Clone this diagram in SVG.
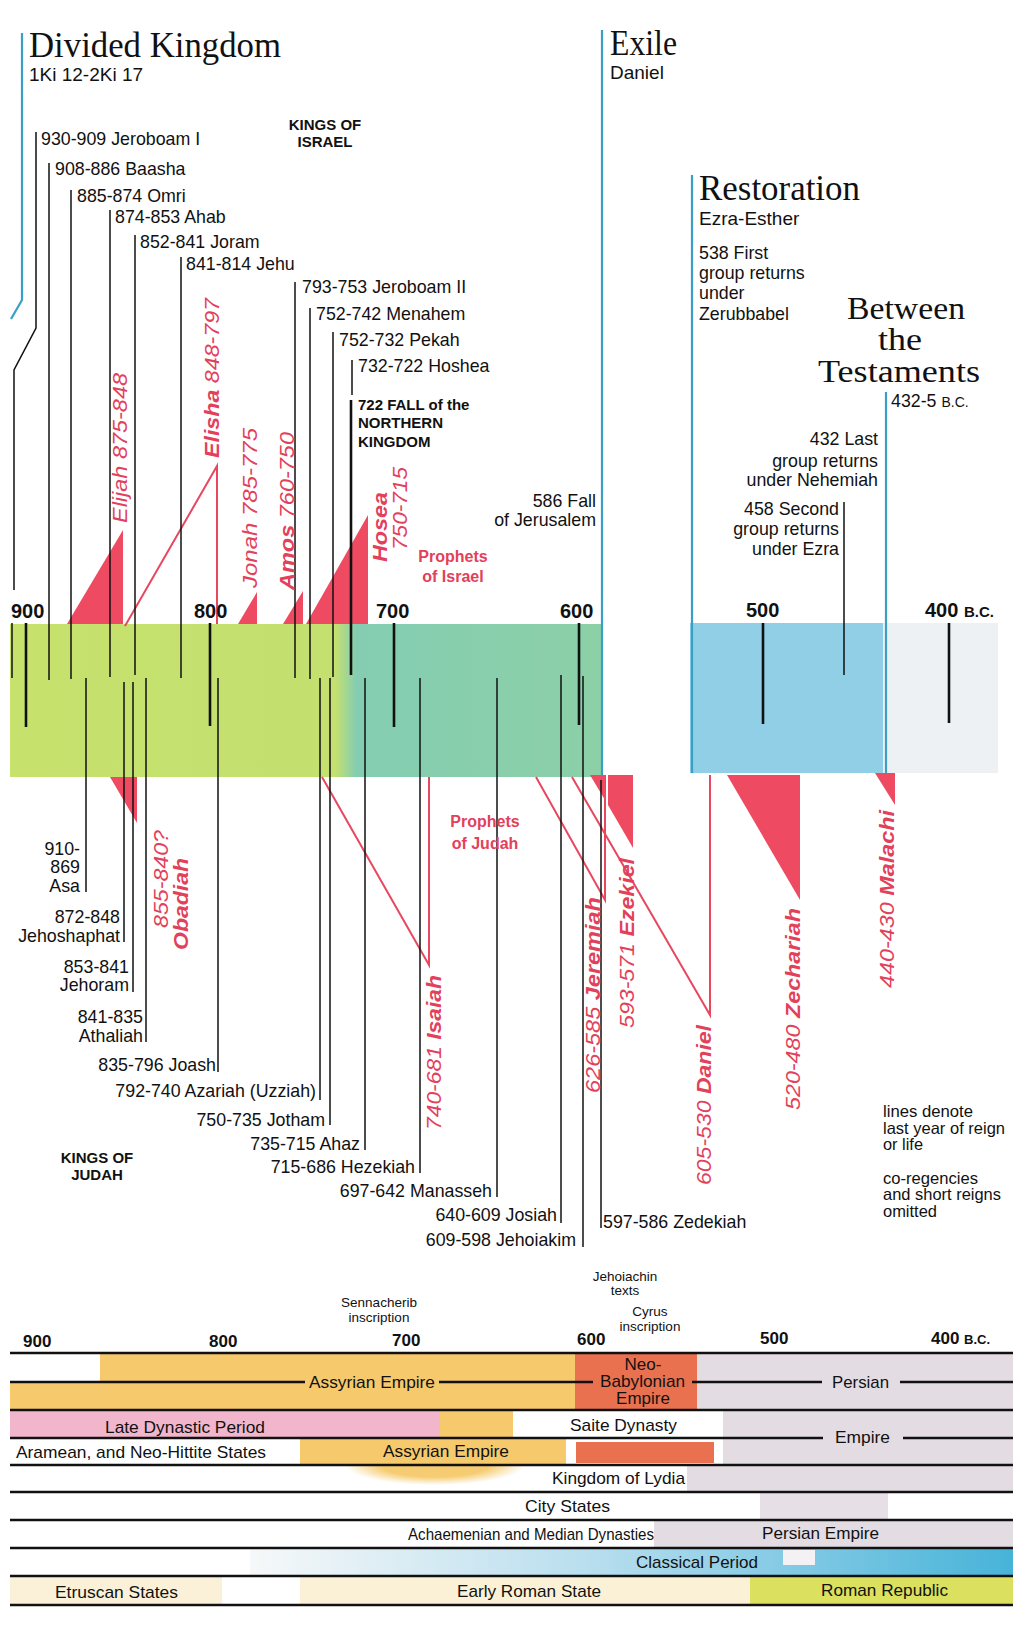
<svg xmlns="http://www.w3.org/2000/svg" width="1024" height="1635" viewBox="0 0 1024 1635">
<defs>
<style>
text{font-family:"Liberation Sans",Arial,sans-serif;fill:#111}
.ttl{font-family:"Liberation Serif","Times New Roman",serif;font-size:36px}
.ttl2{font-family:"Liberation Serif","Times New Roman",serif;font-size:32px}
.sub{font-size:19px}
.k{font-size:17.8px}
.kb{font-size:15px;font-weight:bold}
.yr{font-size:20px;font-weight:bold}
.yrs{font-size:15px;font-weight:bold}
.pr{font-size:21px;font-style:italic;fill:#E3405A}
.pb{font-weight:bold}
.plab{font-size:16px;font-weight:bold;fill:#E3405A}
.lg{font-size:16.5px}
.lc{font-size:17px}
.ly{font-size:17px;font-weight:bold}
.cap{font-size:13.5px}
.bl{stroke:#3A9FC6;stroke-width:2.2;fill:none}
.kl{stroke:#111;stroke-width:1.5;fill:none}
.tk{stroke:#111;stroke-width:2.6;fill:none}
.rf{fill:#EE4B63}
.rl{stroke:#E8475F;stroke-width:2;fill:none}
.hl{stroke:#111;stroke-width:2.6}
</style>
<linearGradient id="bandG" gradientUnits="userSpaceOnUse" x1="10" y1="0" x2="602" y2="0">
<stop offset="0" stop-color="#C6E16C"/>
<stop offset="0.55" stop-color="#C3E070"/>
<stop offset="0.585" stop-color="#84CDB2"/>
<stop offset="1" stop-color="#8CD0A7"/>
</linearGradient>
<linearGradient id="classG" gradientUnits="userSpaceOnUse" x1="250" y1="0" x2="1013" y2="0">
<stop offset="0" stop-color="#F6F8F9"/>
<stop offset="0.45" stop-color="#B8DEEE"/>
<stop offset="1" stop-color="#47B3D9"/>
</linearGradient>
<radialGradient id="glow" cx="0.5" cy="0.5" r="0.5">
<stop offset="0.6" stop-color="#F6CC72"/>
<stop offset="1" stop-color="#F6CC72" stop-opacity="0"/>
</radialGradient>
</defs>
<rect width="1024" height="1635" fill="#ffffff"/>

<!-- main band -->
<g id="band">
<rect x="10" y="624" width="592" height="153" fill="url(#bandG)"/>
<rect x="690" y="623" width="193" height="150" fill="#91CFE7"/>
<rect x="883" y="623" width="115" height="150" fill="#EDF1F4"/>
</g>

<!-- period headers -->
<g id="divided-kingdom">
<polyline class="bl" points="22,33 22,300 11,319"/>
<text class="ttl" x="29" y="57" textLength="252" lengthAdjust="spacingAndGlyphs">Divided Kingdom</text>
<text class="sub" x="29" y="81">1Ki 12-2Ki 17</text>
</g>
<g id="exile">
<line class="bl" x1="602" y1="30" x2="602" y2="777"/>
<text class="ttl" x="610" y="55" textLength="67" lengthAdjust="spacingAndGlyphs">Exile</text>
<text class="sub" x="610" y="79">Daniel</text>
<text class="k" x="596" y="507" text-anchor="end">586 Fall</text>
<text class="k" x="596" y="526" text-anchor="end">of Jerusalem</text>
</g>
<g id="restoration">
<line class="bl" x1="692" y1="175" x2="692" y2="773"/>
<text class="ttl" x="699" y="200" textLength="161" lengthAdjust="spacingAndGlyphs">Restoration</text>
<text class="sub" x="699" y="225">Ezra-Esther</text>
<text class="k" x="699" y="259">538 First</text>
<text class="k" x="699" y="279">group returns</text>
<text class="k" x="699" y="299">under</text>
<text class="k" x="699" y="320">Zerubbabel</text>
<text class="k" x="878" y="445" text-anchor="end">432  Last</text>
<text class="k" x="878" y="467" text-anchor="end">group returns</text>
<text class="k" x="878" y="486" text-anchor="end">under Nehemiah</text>
<text class="k" x="839" y="515" text-anchor="end">458 Second</text>
<text class="k" x="839" y="535" text-anchor="end">group returns</text>
<text class="k" x="839" y="555" text-anchor="end">under Ezra</text>
</g>
<g id="between-testaments">
<line class="bl" x1="886" y1="392" x2="886" y2="780"/>
<text class="ttl2" x="906" y="319" text-anchor="middle" textLength="118" lengthAdjust="spacingAndGlyphs">Between</text>
<text class="ttl2" x="900" y="350" text-anchor="middle" textLength="44" lengthAdjust="spacingAndGlyphs">the</text>
<text class="ttl2" x="899" y="382" text-anchor="middle" textLength="162" lengthAdjust="spacingAndGlyphs">Testaments</text>
<text class="k" x="891" y="407">432-5 <tspan font-size="14">B.C.</tspan></text>
</g>

<!-- prophets triangles -->
<g id="prophet-shapes">
<polygon class="rf" points="67,624 123,530 123,624"/>
<polyline class="rl" points="125,626 217,466 217,624"/>
<polygon class="rf" points="238,624 257,592 257,624"/>
<polygon class="rf" points="283,624 303,591 303,624"/>
<polygon class="rf" points="306,624 368,515 368,624"/>
<polygon class="rf" points="110,777 137,777 137,823"/>
<polyline class="rl" points="322,777 429,965 429,777"/>
<polyline class="rl" points="536,777 605,900 605,775"/>
<polygon class="rf" points="590,775 605,775 605,800"/>
<polyline class="rl" points="572,777 710,1015 710,775"/>
<polygon class="rf" points="608,775 633,775 633,848 608,805"/>
<polygon class="rf" points="727,775 800,775 800,900"/>
<polygon class="rf" points="875,773 895,773 895,805"/>
</g>

<!-- connectors: reign / year lines -->
<g id="connectors">
<polyline class="kl" points="36,132 36,328 14,370 14,590"/>
<line class="kl" x1="12" y1="623" x2="12" y2="678"/>
<line class="kl" x1="49" y1="163" x2="49" y2="680"/>
<line class="kl" x1="71" y1="190" x2="71" y2="679"/>
<line class="kl" x1="110" y1="210" x2="110" y2="677"/>
<line class="kl" x1="135" y1="235" x2="135" y2="675"/>
<line class="kl" x1="181" y1="257" x2="181" y2="678"/>
<line class="kl" x1="295" y1="282" x2="295" y2="678"/>
<line class="kl" x1="310" y1="308" x2="310" y2="679"/>
<line class="kl" x1="333" y1="332" x2="333" y2="677"/>
<line class="kl" x1="352" y1="360" x2="352" y2="395"/>
<line class="tk" x1="351" y1="400" x2="351" y2="675"/>
<line class="tk" x1="26" y1="623" x2="26" y2="727"/>
<line class="tk" x1="210" y1="623" x2="210" y2="726"/>
<line class="tk" x1="394" y1="623" x2="394" y2="727"/>
<line class="tk" x1="579" y1="623" x2="579" y2="725"/>
<line class="tk" x1="763" y1="623" x2="763" y2="724"/>
<line class="tk" x1="949" y1="623" x2="949" y2="723"/>
<line class="kl" x1="844" y1="502" x2="844" y2="675"/>
<line class="kl" x1="86" y1="678" x2="86" y2="892"/>
<line class="kl" x1="124" y1="682" x2="124" y2="942"/>
<line class="kl" x1="133" y1="682" x2="133" y2="992"/>
<line class="kl" x1="146" y1="678" x2="146" y2="1042"/>
<line class="kl" x1="218" y1="678" x2="218" y2="1072"/>
<line class="kl" x1="320" y1="678" x2="320" y2="1100"/>
<line class="kl" x1="330" y1="678" x2="330" y2="1125"/>
<line class="kl" x1="365" y1="678" x2="365" y2="1150"/>
<line class="kl" x1="420" y1="678" x2="420" y2="1173"/>
<line class="kl" x1="497" y1="678" x2="497" y2="1197"/>
<line class="kl" x1="561" y1="675" x2="561" y2="1223"/>
<line class="kl" x1="583" y1="676" x2="583" y2="1247"/>
<line class="kl" x1="601" y1="780" x2="601" y2="1228"/>
</g>

<!-- band year labels -->
<g id="band-years">
<text class="yr" x="11" y="618">900</text>
<text class="yr" x="194" y="618">800</text>
<text class="yr" x="376" y="618">700</text>
<text class="yr" x="560" y="618">600</text>
<text class="yr" x="746" y="617">500</text>
<text class="yr" x="925" y="617">400 <tspan class="yrs">B.C.</tspan></text>
</g>

<!-- kings of Israel -->
<g id="kings-israel">
<text class="kb" x="325" y="130" text-anchor="middle">KINGS OF</text>
<text class="kb" x="325" y="147" text-anchor="middle">ISRAEL</text>
<text class="k" x="41" y="145">930-909 Jeroboam I</text>
<text class="k" x="55" y="175">908-886 Baasha</text>
<text class="k" x="77" y="202">885-874 Omri</text>
<text class="k" x="115" y="223">874-853 Ahab</text>
<text class="k" x="140" y="248">852-841 Joram</text>
<text class="k" x="186" y="270">841-814 Jehu</text>
<text class="k" x="302" y="293">793-753 Jeroboam II</text>
<text class="k" x="316" y="320">752-742 Menahem</text>
<text class="k" x="339" y="346">752-732 Pekah</text>
<text class="k" x="358" y="372">732-722 Hoshea</text>
<text class="kb" x="358" y="410" font-size="15.5">722 FALL of the</text>
<text class="kb" x="358" y="428" font-size="15.5">NORTHERN</text>
<text class="kb" x="358" y="447" font-size="15.5">KINGDOM</text>
</g>

<!-- kings of Judah -->
<g id="kings-judah">
<text class="kb" x="97" y="1163" text-anchor="middle" font-size="15.5">KINGS OF</text>
<text class="kb" x="97" y="1180" text-anchor="middle" font-size="15.5">JUDAH</text>
<text class="k" x="80" y="855" text-anchor="end">910-</text>
<text class="k" x="80" y="873" text-anchor="end">869</text>
<text class="k" x="80" y="892" text-anchor="end">Asa</text>
<text class="k" x="120" y="923" text-anchor="end">872-848</text>
<text class="k" x="120" y="942" text-anchor="end">Jehoshaphat</text>
<text class="k" x="129" y="973" text-anchor="end">853-841</text>
<text class="k" x="129" y="991" text-anchor="end">Jehoram</text>
<text class="k" x="143" y="1023" text-anchor="end">841-835</text>
<text class="k" x="143" y="1042" text-anchor="end">Athaliah</text>
<text class="k" x="216" y="1071" text-anchor="end">835-796 Joash</text>
<text class="k" x="316" y="1097" text-anchor="end">792-740 Azariah (Uzziah)</text>
<text class="k" x="325" y="1126" text-anchor="end">750-735 Jotham</text>
<text class="k" x="360" y="1150" text-anchor="end">735-715 Ahaz</text>
<text class="k" x="415" y="1173" text-anchor="end">715-686 Hezekiah</text>
<text class="k" x="492" y="1197" text-anchor="end">697-642 Manasseh</text>
<text class="k" x="557" y="1221" text-anchor="end">640-609 Josiah</text>
<text class="k" x="576" y="1246" text-anchor="end">609-598 Jehoiakim</text>
<text class="k" x="603" y="1228">597-586 Zedekiah</text>
</g>

<!-- prophets labels -->
<g id="prophets">
<text class="plab" x="453" y="562" text-anchor="middle">Prophets</text>
<text class="plab" x="453" y="582" text-anchor="middle">of Israel</text>
<text class="plab" x="485" y="827" text-anchor="middle">Prophets</text>
<text class="plab" x="485" y="849" text-anchor="middle">of  Judah</text>
<text class="pr" transform="translate(127,523) rotate(-90)" textLength="150" lengthAdjust="spacingAndGlyphs">Elijah 875-848</text>
<text class="pr" transform="translate(219,458) rotate(-90)" textLength="160" lengthAdjust="spacingAndGlyphs"><tspan class="pb">Elisha</tspan> 848-797</text>
<text class="pr" transform="translate(257,588) rotate(-90)" textLength="160" lengthAdjust="spacingAndGlyphs">Jonah 785-775</text>
<text class="pr" transform="translate(294,590) rotate(-90)" textLength="158" lengthAdjust="spacingAndGlyphs"><tspan class="pb">Amos</tspan> 760-750</text>
<text class="pr pb" transform="translate(387,562) rotate(-90)" textLength="70" lengthAdjust="spacingAndGlyphs">Hosea</text>
<text class="pr" transform="translate(407,550) rotate(-90)" textLength="83" lengthAdjust="spacingAndGlyphs">750-715</text>
<text class="pr" transform="translate(168,928) rotate(-90)" textLength="98" lengthAdjust="spacingAndGlyphs">855-840?</text>
<text class="pr pb" transform="translate(188,950) rotate(-90)" textLength="92" lengthAdjust="spacingAndGlyphs">Obadiah</text>
<text class="pr" transform="translate(441,1130) rotate(-90)" textLength="155" lengthAdjust="spacingAndGlyphs">740-681 <tspan class="pb">Isaiah</tspan></text>
<text class="pr" transform="translate(600,1093) rotate(-90)" textLength="196" lengthAdjust="spacingAndGlyphs">626-585 <tspan class="pb">Jeremiah</tspan></text>
<text class="pr" transform="translate(634,1028) rotate(-90)" textLength="170" lengthAdjust="spacingAndGlyphs">593-571 <tspan class="pb">Ezekiel</tspan></text>
<text class="pr" transform="translate(711,1185) rotate(-90)" textLength="160" lengthAdjust="spacingAndGlyphs">605-530 <tspan class="pb">Daniel</tspan></text>
<text class="pr" transform="translate(800,1110) rotate(-90)" textLength="202" lengthAdjust="spacingAndGlyphs">520-480 <tspan class="pb">Zechariah</tspan></text>
<text class="pr" transform="translate(894,988) rotate(-90)" textLength="178" lengthAdjust="spacingAndGlyphs">440-430 <tspan class="pb">Malachi</tspan></text>
</g>

<!-- legend -->
<g id="legend">
<text class="lg" x="883" y="1117" textLength="90" lengthAdjust="spacingAndGlyphs">lines denote</text>
<text class="lg" x="883" y="1134" textLength="122" lengthAdjust="spacingAndGlyphs">last year of reign</text>
<text class="lg" x="883" y="1150" textLength="40" lengthAdjust="spacingAndGlyphs">or life</text>
<text class="lg" x="883" y="1184" textLength="95" lengthAdjust="spacingAndGlyphs">co-regencies</text>
<text class="lg" x="883" y="1200" textLength="118" lengthAdjust="spacingAndGlyphs">and short reigns</text>
<text class="lg" x="883" y="1217" textLength="54" lengthAdjust="spacingAndGlyphs">omitted</text>
</g>

<!-- lower world-history chart -->
<g id="world-chart">
<g id="world-fills">
<rect x="100" y="1353" width="475" height="29" fill="#F6C96C"/>
<rect x="10" y="1382" width="565" height="28" fill="#F6C96C"/>
<rect x="575" y="1353" width="122" height="57" fill="#E9714F"/>
<rect x="697" y="1353" width="316" height="57" fill="#E3DCE3"/>
<rect x="10" y="1410" width="430" height="28" fill="#F2B6CC"/>
<rect x="440" y="1410" width="73" height="28" fill="#F6C96C"/>
<rect x="723" y="1410" width="290" height="55" fill="#E3DCE3"/>
<ellipse cx="435" cy="1465" rx="90" ry="20" fill="url(#glow)"/>
<rect x="300" y="1438" width="266" height="27" fill="#F6C96C"/>
<rect x="576" y="1442" width="138" height="21" fill="#E9714F"/>
<rect x="687" y="1465" width="326" height="27" fill="#E3DCE3"/>
<rect x="760" y="1492" width="128" height="28" fill="#E6E0E6"/>
<rect x="654" y="1520" width="359" height="28" fill="#E3DCE3"/>
<rect x="250" y="1548" width="763" height="28" fill="url(#classG)"/>
<rect x="783" y="1550" width="32" height="15" fill="#F4F1F4"/>
<rect x="10" y="1576" width="212" height="29" fill="#FBF1D8"/>
<rect x="300" y="1576" width="450" height="29" fill="#FBF1D6"/>
<rect x="750" y="1576" width="263" height="29" fill="#DBE05E"/>
</g>
<g id="world-lines">
<line class="hl" x1="10" y1="1353" x2="1013" y2="1353"/>
<line class="hl" x1="10" y1="1382" x2="305" y2="1382"/>
<line class="hl" x1="439" y1="1382" x2="593" y2="1382"/>
<line class="hl" x1="692" y1="1382" x2="822" y2="1382"/>
<line class="hl" x1="900" y1="1382" x2="1013" y2="1382"/>
<line class="hl" x1="10" y1="1410" x2="1013" y2="1410"/>
<line class="hl" x1="10" y1="1438" x2="823" y2="1438"/>
<line class="hl" x1="903" y1="1438" x2="1013" y2="1438"/>
<line class="hl" x1="10" y1="1465" x2="1013" y2="1465"/>
<line class="hl" x1="10" y1="1492" x2="1013" y2="1492"/>
<line class="hl" x1="10" y1="1520" x2="1013" y2="1520"/>
<line class="hl" x1="10" y1="1548" x2="1013" y2="1548"/>
<line class="hl" x1="10" y1="1576" x2="1013" y2="1576"/>
<line class="hl" x1="10" y1="1605" x2="1013" y2="1605"/>
</g>
<g id="world-years">
<text class="ly" x="23" y="1347">900</text>
<text class="ly" x="209" y="1347">800</text>
<text class="ly" x="392" y="1346">700</text>
<text class="ly" x="577" y="1345">600</text>
<text class="ly" x="760" y="1344">500</text>
<text class="ly" x="931" y="1344">400 <tspan font-size="13">B.C.</tspan></text>
<text class="cap" x="379" y="1307" text-anchor="middle">Sennacherib</text>
<text class="cap" x="379" y="1322" text-anchor="middle">inscription</text>
<text class="cap" x="625" y="1281" text-anchor="middle">Jehoiachin</text>
<text class="cap" x="625" y="1295" text-anchor="middle">texts</text>
<text class="cap" x="650" y="1316" text-anchor="middle">Cyrus</text>
<text class="cap" x="650" y="1331" text-anchor="middle">inscription</text>
</g>
<g id="world-labels">
<text class="lc" x="309" y="1388" textLength="126" lengthAdjust="spacingAndGlyphs">Assyrian Empire</text>
<text class="lc" x="643" y="1370" text-anchor="middle">Neo-</text>
<text class="lc" x="600" y="1387" textLength="85" lengthAdjust="spacingAndGlyphs">Babylonian</text>
<text class="lc" x="643" y="1404" text-anchor="middle">Empire</text>
<text class="lc" x="832" y="1388" textLength="57" lengthAdjust="spacingAndGlyphs">Persian</text>
<text class="lc" x="105" y="1433" textLength="160" lengthAdjust="spacingAndGlyphs">Late Dynastic Period</text>
<text class="lc" x="570" y="1431" textLength="107" lengthAdjust="spacingAndGlyphs">Saite Dynasty</text>
<text class="lc" x="835" y="1443" textLength="55" lengthAdjust="spacingAndGlyphs">Empire</text>
<text class="lc" x="16" y="1458" textLength="250" lengthAdjust="spacingAndGlyphs">Aramean, and Neo-Hittite States</text>
<text class="lc" x="383" y="1457" textLength="126" lengthAdjust="spacingAndGlyphs">Assyrian Empire</text>
<text class="lc" x="552" y="1484" textLength="133" lengthAdjust="spacingAndGlyphs">Kingdom of Lydia</text>
<text class="lc" x="525" y="1512" textLength="85" lengthAdjust="spacingAndGlyphs">City States</text>
<text class="lc" x="408" y="1540" textLength="246" lengthAdjust="spacingAndGlyphs">Achaemenian and Median Dynasties</text>
<text class="lc" x="762" y="1539" textLength="117" lengthAdjust="spacingAndGlyphs">Persian Empire</text>
<text class="lc" x="636" y="1568" textLength="122" lengthAdjust="spacingAndGlyphs">Classical Period</text>
<text class="lc" x="55" y="1598" textLength="123" lengthAdjust="spacingAndGlyphs">Etruscan States</text>
<text class="lc" x="457" y="1597" textLength="144" lengthAdjust="spacingAndGlyphs">Early Roman State</text>
<text class="lc" x="821" y="1596" textLength="127" lengthAdjust="spacingAndGlyphs">Roman Republic</text>
</g>
</g>
</svg>
